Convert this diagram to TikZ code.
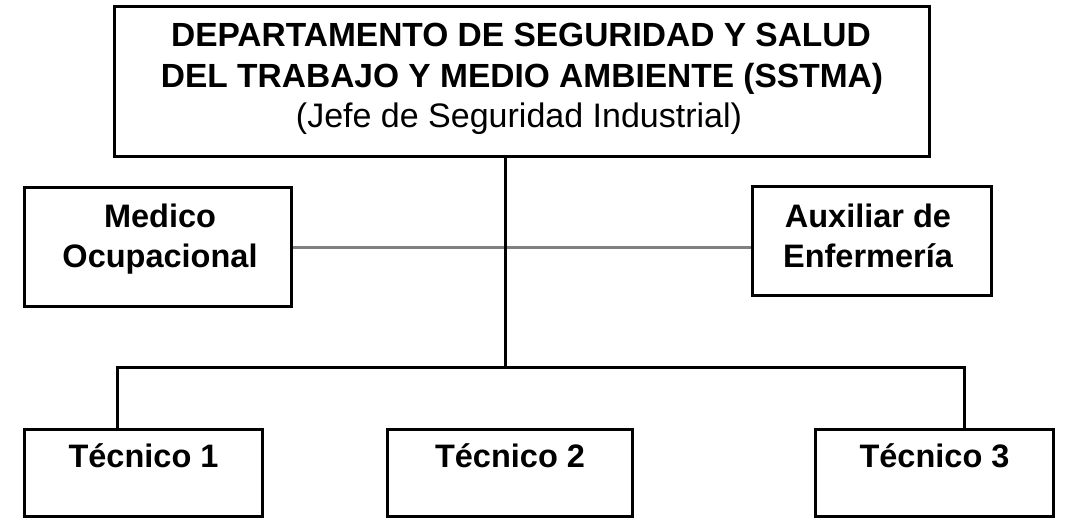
\documentclass[tikz,border=0pt]{standalone}
\usepackage{fontspec}
\setmainfont{Liberation Sans}
\begin{document}
\begin{tikzpicture}[x=1pt,y=-1pt,
  box/.style={draw, line width=3pt, inner sep=0pt, fill=white},
  conn/.style={line width=3pt, line cap=rect},
  greyconn/.style={line width=3pt, draw={rgb,255:red,128;green,128;blue,128}},
  headb/.style={inner sep=0pt, anchor=base, font=\fontsize{33.5}{40}\selectfont\bfseries},
  headr/.style={inner sep=0pt, anchor=base, font=\fontsize{34}{40}\selectfont},
  lbl/.style={inner sep=0pt, anchor=base, font=\fontsize{32.5}{40}\selectfont\bfseries}]
\useasboundingbox (0,0) rectangle (1068,519);
\fill[white] (0,0) rectangle (1068,519);

% boxes
\node[box, minimum width=815, minimum height=149.5] (top) at (522,81.25) {};
\node[box, minimum width=267, minimum height=119] (medico) at (158,247) {};
\node[box, minimum width=239, minimum height=109] (aux) at (872,241) {};
\node[box, minimum width=238, minimum height=87] (t1) at (143.5,473) {};
\node[box, minimum width=244.5, minimum height=87] (t2) at (510,473) {};
\node[box, minimum width=238, minimum height=87] (t3) at (934.5,473) {};

% texts
\node[headb] (tl1) at (521,47) {DEPARTAMENTO DE SEGURIDAD Y SALUD};
\node[headb] (tl2) at (522,87) {DEL TRABAJO Y MEDIO AMBIENTE (SSTMA)};
\node[headr] (tl3) at (519,127) {(Jefe de Seguridad Industrial)};
\node[lbl] (m1) at (160,227) {Medico};
\node[lbl] (m2) at (160,267) {Ocupacional};
\node[lbl] (a1) at (868,227) {Auxiliar de};
\node[lbl] (a2) at (868,267) {Enfermería};
\node[lbl] (x1) at (143.5,467) {Técnico 1};
\node[lbl] (x2) at (510,467) {Técnico 2};
\node[lbl] (x3) at (934.5,467) {Técnico 3};

% connectors
\coordinate (bm) at (505,367);
\coordinate (bl) at (117,367);
\coordinate (br) at (964,367);
\coordinate (g) at (0,247);
\draw[greyconn] (medico.east |- g) -- (aux.west |- g);
\draw[conn] (top.south -| bm) -- (bm);
\draw[conn, line join=miter] (t1.north -| bl) -- (bl) -- (br) -- (t3.north -| br);
\end{tikzpicture}
\end{document}
